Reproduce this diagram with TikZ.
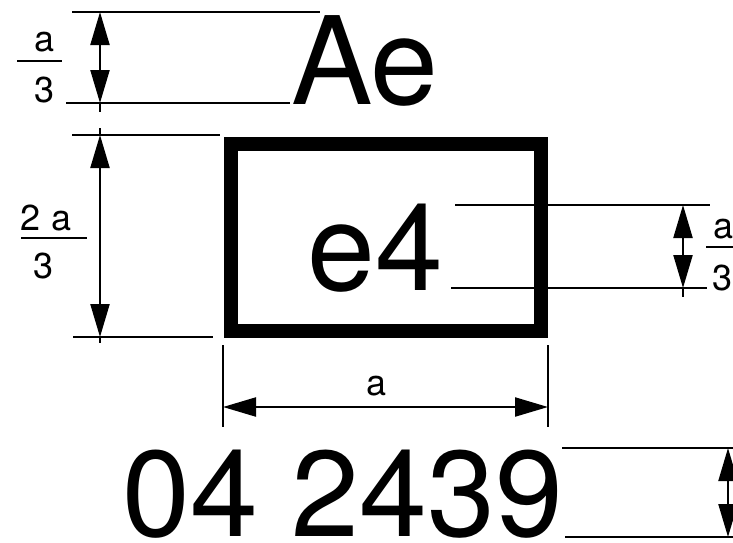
\documentclass[tikz,border=0pt]{standalone}
\usepackage{fontspec}
\setmainfont{TeX Gyre Heros}
\usetikzlibrary{arrows.meta}

\tikzset{
  extline/.style={black, line width=2.2pt},
  dimline/.style={black, line width=2.2pt, {Triangle[length=33pt, width=19pt]}-{Triangle[length=33pt, width=19pt]}},
  bigtext/.style={inner sep=0pt, anchor=base west, font=\fontsize{122}{130}\selectfont},
  smalltext/.style={inner sep=0pt, font=\fontsize{36}{40}\selectfont}
}

\begin{document}
\begin{tikzpicture}[x=1pt, y=-1pt, line join=round]

    \useasboundingbox (0,0) rectangle (733,542);
    \clip (0,0) rectangle (733,542);

    % Extension lines (horizontal)
    \foreach \xa/\xb/\y in {72/320/12, 66/290/103, 72/220/135, 73/213/337, 455/710/205, 451/707/288, 562/740/448, 565/740/537} {
        \draw[extline] (\xa,\y) -- (\xb,\y);
    }
    % Extension lines (vertical)
    \foreach \x in {223, 548} {
        \draw[extline] (\x,345) -- (\x,427);
    }

    % Frame
    \draw[black, line width=14pt, line join=miter] (231,144) rectangle (541,331);

    % Dimension arrows
    \draw[dimline] (100,12) -- (100,103);
    \draw[extline] (100,103) -- (100,112);
    \draw[dimline] (100,135) -- (100,337);
    \draw[extline] (100,128) -- (100,135);
    \draw[extline] (100,337) -- (100,343);
    \draw[dimline] (683,205) -- (683,288);
    \draw[extline] (683,288) -- (683,297);
    \draw[dimline] (223,407) -- (548,407);
    \draw[dimline] (728,448) -- (728,537);

    % Big characters
    \node[bigtext] (capital) at (291,104) {Ae};
    \node[bigtext] (inner) at (307,290) {e4};
    \node[bigtext] (number) at (122,536) {04 2439};

    % Fractions (left, top)
    \node[smalltext, anchor=base] (numa) at (45,51) {a};
    \draw[extline] (17,61) -- (62,61);
    \node[smalltext, anchor=base] (dena) at (45,102) {3};
    % Fractions (left, middle)
    \node[smalltext, anchor=base] (numb) at (46,230) {2 a};
    \draw[extline] (21,238) -- (87,238);
    \node[smalltext, anchor=base] (denb) at (44,278) {3};
    % Fractions (right)
    \node[smalltext, anchor=base west] (numc) at (713,238) {a};
    \draw[extline] (706,247) -- (740,247);
    \node[smalltext, anchor=base west] (denc) at (712,290) {3};

    % Width label
    \node[smalltext, anchor=base] (width) at (377,395) {a};

\end{tikzpicture}
\end{document}
